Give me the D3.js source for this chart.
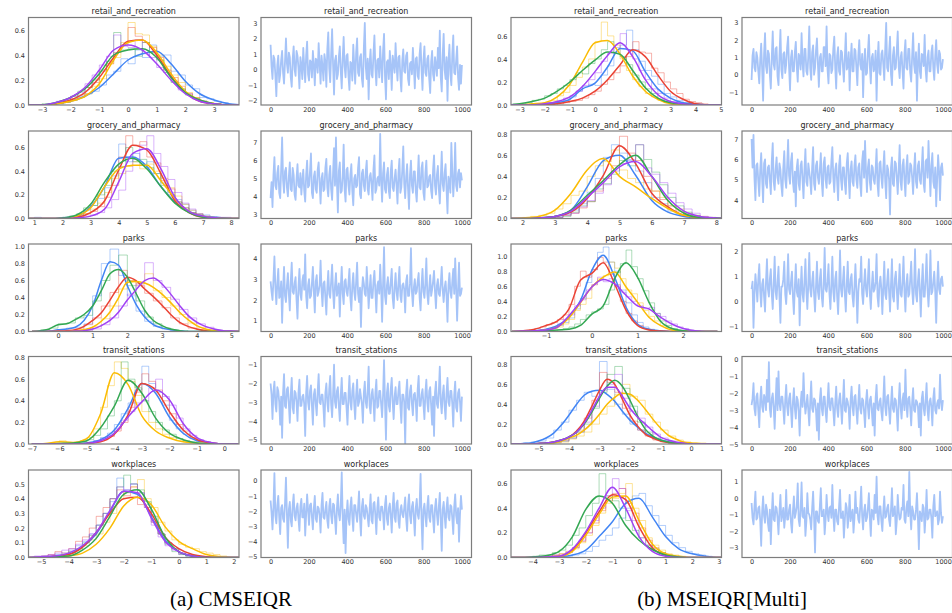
<!DOCTYPE html>
<html><head><meta charset="utf-8">
<script src="https://cdn.jsdelivr.net/npm/d3@7"></script>
<style>body{margin:0;background:#fff}svg{display:block}</style>
</head><body><svg id="c" width="952" height="613"></svg>
<script>
// ---------------- DATA ----------------
const chains = ["blue","red","yellow","green","purple"];
const chainColors = {blue:"#4285f4", red:"#ea4335", yellow:"#fbbc04", green:"#34a853", purple:"#a142f4"};
const rowTitles = ["retail_and_recreation","grocery_and_pharmacy","parks","transit_stations","workplaces"];
const captions = ["(a) CMSEIQR","(b) MSEIQR[Multi]"];
const traceXTicks = [0,200,400,600,800,1000];

const densXDomainA = [[-3.47,3.87],[0.79,8.28],[-0.85,5.22],[-7.12,0.53],[-5.46,2.19]];
const densYDomainA = [[0,0.70],[0,0.74],[0,1.03],[0,0.81],[0,0.595]];
const densXTicksA = [[-3,-2,-1,0,1,2,3],[1,2,3,4,5,6,7,8],[0,1,2,3,4,5],[-7,-6,-5,-4,-3,-2,-1,0],[-5,-4,-3,-2,-1,0,1,2]];
const densYTicksA = [[0,0.2,0.4,0.6],[0,0.2,0.4,0.6],[0,0.2,0.4,0.6,0.8,1.0],[0,0.2,0.4,0.6,0.8],[0,0.1,0.2,0.3,0.4,0.5]];
const densXDomainB = [[-3.34,5.03],[1.64,8.16],[-1.77,2.84],[-5.9,1.0],[-4.81,3.10]];
const densYDomainB = [[0,0.76],[0,0.83],[0,1.16],[0,0.88],[0,0.71]];
const densXTicksB = [[-3,-2,-1,0,1,2,3,4,5],[2,3,4,5,6,7,8],[-1,0,1,2],[-5,-4,-3,-2,-1,0,1],[-4,-3,-2,-1,0,1,2,3]];
const densYTicksB = [[0,0.2,0.4,0.6],[0,0.2,0.4,0.6,0.8],[0,0.2,0.4,0.6,0.8,1.0],[0,0.2,0.4,0.6,0.8],[0,0.2,0.4,0.6]];

const traceYDomainA = [[-2.27,3.35],[2.76,7.66],[0.48,4.70],[-5.23,-0.56],[-5.04,0.70]];
const traceYTicksA = [[-2,-1,0,1,2,3],[3,4,5,6,7],[1,2,3,4],[-5,-4,-3,-2,-1],[-5,-4,-3,-2,-1,0]];
const traceYDomainB = [[-1.75,3.31],[3.10,7.39],[-1.2,2.31],[-5.0,0.18],[-3.61,1.71]];
const traceYTicksB = [[-1,0,1,2,3],[4,5,6,7],[-1,0,1,2],[-5,-4,-3,-2,-1,0],[-3,-2,-1,0,1]];

const retailA_kde = {start:-3.5, step:0.5,
 blue:[0,0,0.01,0.03,0.07,0.14,0.25,0.36,0.41,0.43,0.33,0.19,0.09,0.04,0.01,0],
 red:[0,0,0.01,0.04,0.10,0.22,0.38,0.51,0.52,0.40,0.23,0.10,0.03,0.01,0,0],
 yellow:[0,0,0.01,0.03,0.07,0.17,0.36,0.50,0.52,0.42,0.25,0.11,0.04,0.01,0,0],
 green:[0,0,0.02,0.06,0.13,0.25,0.40,0.44,0.45,0.38,0.22,0.10,0.04,0.01,0,0],
 purple:[0,0,0.02,0.06,0.14,0.28,0.44,0.48,0.44,0.33,0.20,0.09,0.03,0.01,0,0]};
const retailB_kde = {start:-3.5, step:0.5,
 yellow:[0,0,0.01,0.02,0.07,0.18,0.37,0.54,0.56,0.44,0.25,0.12,0.05,0.01,0,0,0,0],
 green:[0,0.01,0.03,0.06,0.12,0.20,0.30,0.39,0.46,0.44,0.30,0.15,0.06,0.02,0.01,0,0,0],
 purple:[0,0,0,0.01,0.03,0.07,0.16,0.29,0.43,0.54,0.42,0.22,0.09,0.03,0.01,0,0,0],
 blue:[0,0,0,0.01,0.02,0.05,0.14,0.19,0.33,0.49,0.47,0.29,0.14,0.06,0.02,0.01,0,0],
 red:[0,0,0,0,0.01,0.03,0.06,0.12,0.22,0.35,0.48,0.42,0.26,0.12,0.05,0.01,0,0]};
const groceryA_kde = {start:0.5, step:0.5,
 blue:[0,0,0,0.005,0.02,0.10,0.27,0.51,0.52,0.44,0.27,0.14,0.06,0.02,0.01,0,0],
 red:[0,0,0,0,0.01,0.05,0.15,0.41,0.62,0.58,0.38,0.15,0.05,0.01,0,0,0],
 purple:[0,0,0,0,0.005,0.02,0.08,0.31,0.55,0.59,0.42,0.18,0.06,0.02,0.005,0,0],
 green:[0,0,0,0.005,0.03,0.12,0.31,0.46,0.51,0.42,0.27,0.13,0.05,0.01,0,0,0],
 yellow:[0,0,0,0,0.02,0.09,0.27,0.42,0.45,0.45,0.32,0.17,0.06,0.02,0.005,0,0]};
const groceryB_kde = {start:1.5, step:0.5,
 yellow:[0,0.005,0.02,0.08,0.24,0.46,0.57,0.40,0.30,0.19,0.095,0.03,0.01,0,0],
 blue:[0,0,0.005,0.02,0.08,0.30,0.55,0.60,0.41,0.17,0.06,0.02,0.005,0,0],
 red:[0,0,0.005,0.02,0.06,0.19,0.41,0.69,0.52,0.24,0.11,0.03,0.01,0,0],
 green:[0,0,0.005,0.02,0.08,0.22,0.36,0.51,0.60,0.40,0.17,0.05,0.01,0.005,0],
 purple:[0,0,0.005,0.02,0.07,0.20,0.34,0.49,0.54,0.40,0.20,0.07,0.02,0.005,0]};
const parksA_kde = {start:-0.75, step:0.25,
 blue:[0,0,0.005,0.02,0.03,0.05,0.13,0.30,0.60,0.82,0.78,0.54,0.32,0.17,0.08,0.04,0.02,0.01,0,0,0,0,0,0,0],
 green:[0,0.01,0.03,0.08,0.09,0.14,0.20,0.30,0.48,0.68,0.73,0.64,0.45,0.25,0.13,0.07,0.03,0.01,0,0,0,0,0,0,0],
 red:[0,0,0,0.005,0.01,0.02,0.06,0.13,0.22,0.37,0.53,0.64,0.60,0.50,0.41,0.31,0.20,0.11,0.06,0.03,0.01,0.005,0,0,0],
 yellow:[0,0,0,0,0,0.01,0.02,0.05,0.12,0.23,0.40,0.58,0.59,0.57,0.52,0.44,0.34,0.23,0.14,0.07,0.03,0.01,0,0,0],
 purple:[0,0,0,0,0,0.005,0.01,0.03,0.07,0.13,0.23,0.37,0.49,0.60,0.63,0.56,0.44,0.31,0.19,0.11,0.06,0.03,0.01,0.005,0]};
const parksB_kde = {start:-1.75, step:0.25,
 blue:[0,0,0.01,0.03,0.08,0.19,0.41,0.81,1.01,0.72,0.32,0.10,0.03,0.01,0,0,0,0,0],
 red:[0,0.01,0.03,0.08,0.14,0.30,0.68,0.77,0.91,0.63,0.28,0.08,0.02,0.005,0,0,0,0,0],
 yellow:[0,0,0.005,0.02,0.06,0.18,0.38,0.59,0.72,0.79,0.59,0.39,0.19,0.08,0.02,0.005,0,0,0],
 green:[0,0,0.005,0.01,0.02,0.03,0.08,0.23,0.34,0.70,0.91,0.72,0.39,0.14,0.04,0.01,0,0,0],
 purple:[0,0.005,0.01,0.02,0.06,0.21,0.39,0.59,0.69,0.63,0.48,0.34,0.30,0.19,0.10,0.04,0.01,0,0]};
const transitA_kde = {start:-7, step:0.5,
 yellow:[0,0.005,0.02,0.015,0.05,0.28,0.66,0.55,0.26,0.12,0.055,0.02,0.01,0,0,0],
 green:[0,0,0.005,0.01,0.03,0.15,0.35,0.59,0.47,0.24,0.10,0.04,0.01,0,0,0],
 blue:[0,0,0,0,0.01,0.04,0.13,0.33,0.56,0.47,0.25,0.10,0.03,0.01,0,0],
 red:[0,0,0,0,0.005,0.02,0.09,0.27,0.56,0.50,0.30,0.13,0.04,0.01,0,0],
 purple:[0,0,0,0,0.005,0.03,0.10,0.25,0.39,0.50,0.41,0.19,0.06,0.015,0,0]};
const transitB_kde = {start:-6, step:0.25,
 blue:[0,0,0.005,0.01,0.03,0.06,0.11,0.19,0.29,0.40,0.49,0.53,0.54,0.50,0.43,0.33,0.24,0.17,0.11,0.07,0.04,0.02,0.01,0.005,0,0,0,0,0],
 red:[0,0,0,0,0.005,0.01,0.02,0.04,0.07,0.13,0.23,0.38,0.54,0.65,0.60,0.45,0.29,0.18,0.10,0.06,0.03,0.015,0.01,0,0,0,0,0,0],
 green:[0,0,0,0,0.005,0.01,0.02,0.04,0.07,0.12,0.20,0.32,0.46,0.58,0.64,0.58,0.44,0.28,0.15,0.08,0.04,0.02,0.01,0,0,0,0,0,0],
 purple:[0,0,0,0,0.005,0.01,0.02,0.04,0.07,0.12,0.21,0.34,0.48,0.57,0.57,0.48,0.36,0.27,0.20,0.13,0.07,0.04,0.02,0.01,0,0,0,0,0],
 yellow:[0,0,0,0,0,0.005,0.01,0.03,0.06,0.09,0.14,0.21,0.30,0.40,0.47,0.51,0.50,0.44,0.35,0.25,0.16,0.09,0.05,0.02,0.01,0.005,0,0,0]};
const workA_kde = {start:-5.5, step:0.5,
 blue:[0,0,0.005,0.02,0.07,0.16,0.31,0.45,0.43,0.28,0.12,0.04,0.01,0,0,0,0],
 purple:[0,0.005,0.01,0.03,0.08,0.17,0.32,0.45,0.44,0.27,0.11,0.04,0.01,0,0,0,0],
 green:[0,0,0.005,0.01,0.05,0.13,0.28,0.43,0.46,0.33,0.14,0.04,0.01,0,0,0,0],
 red:[0,0,0.01,0.02,0.07,0.17,0.30,0.40,0.41,0.30,0.14,0.06,0.02,0.005,0,0,0],
 yellow:[0,0,0,0.01,0.03,0.09,0.20,0.35,0.41,0.36,0.21,0.11,0.06,0.02,0.005,0,0]};
const workB_kde = {start:-5, step:0.5,
 green:[0,0,0.005,0.015,0.05,0.17,0.39,0.50,0.44,0.26,0.14,0.065,0.02,0.005,0,0,0,0],
 purple:[0,0,0,0.005,0.01,0.07,0.21,0.40,0.57,0.40,0.17,0.05,0.01,0,0,0,0,0],
 red:[0,0,0,0.005,0.01,0.06,0.20,0.37,0.51,0.47,0.25,0.08,0.02,0.005,0,0,0,0],
 yellow:[0,0,0,0.005,0.01,0.05,0.18,0.35,0.49,0.50,0.30,0.11,0.03,0.01,0,0,0,0],
 blue:[0,0,0,0,0.005,0.02,0.06,0.17,0.29,0.44,0.48,0.33,0.17,0.07,0.03,0.01,0,0]};

const retailA_hist = {start:-3.5, width:0.25,
 blue:[0,0,0,0,1,2,4,7,9,11,16,24,27,37,33,44,38,48,39,40,27,24,16,13,6,5,3,2,0,0],
 red:[0,0,0,1,2,3,5,8,14,18,27,33,42,48,62,55,50,46,38,28,22,15,9,6,3,1,1,0,0,0],
 yellow:[0,0,0,0,1,2,4,6,9,15,21,33,38,50,66,57,56,47,40,31,24,18,10,6,3,2,1,0,0,0],
 green:[0,0,1,1,2,4,7,11,14,20,28,35,58,44,45,39,50,42,36,26,18,13,8,5,3,1,1,0,0,0],
 purple:[0,0,0,1,3,4,7,10,17,24,32,39,56,47,46,52,41,38,30,26,19,12,9,5,3,1,0,0,0,0]};
const retailB_hist = {start:-3.5, width:0.25,
 yellow:[0,0,0,0,1,1,2,4,8,11,17,24,33,40,55,72,60,52,40,30,22,16,10,7,4,2,1,0,0,0,0,0,0,0],
 green:[0,1,1,2,4,5,8,10,14,17,22,28,27,36,40,48,55,45,42,35,26,20,14,10,5,3,2,1,0,0,0,0,0,0],
 purple:[0,0,0,0,0,1,2,2,4,6,8,12,17,22,28,38,45,50,62,48,40,30,22,14,10,6,3,2,1,0,0,0,0,0],
 blue:[0,0,0,0,0,0,1,2,3,4,7,12,16,18,17,26,34,45,52,65,48,38,30,25,18,10,7,4,2,1,0,0,0,0],
 red:[0,0,0,0,0,0,0,0,1,2,3,4,6,9,12,18,22,28,34,42,55,46,45,32,28,20,14,10,5,3,2,1,0,0]};
const groceryA_hist = {start:0.5, width:0.25,
 red:[0,0,0,0,0,0,0,1,2,4,6,10,18,28,52,70,62,65,52,47,32,25,14,9,5,3,1,1,0,0,0,0],
 purple:[0,0,0,0,0,0,0,0,1,2,3,5,9,16,24,40,50,62,70,55,44,33,22,13,8,4,2,1,1,1,0,0],
 blue:[0,0,1,0,0,0,1,2,3,7,11,17,26,36,63,48,55,46,48,38,30,22,16,12,7,4,3,1,0,0,0,0],
 green:[0,0,0,0,0,0,1,2,4,9,11,20,28,40,44,60,48,50,43,38,28,20,14,9,5,3,1,0,0,0,0,0],
 yellow:[0,0,0,0,0,0,0,1,2,4,8,13,22,34,38,44,48,42,46,40,34,26,19,12,7,4,2,1,0,0,0,0]};
const groceryB_hist = {start:1.5, width:0.25,
 yellow:[0,0,1,2,3,5,9,14,22,26,40,50,54,65,46,38,34,28,26,20,12,9,5,3,2,1,0,0],
 blue:[0,0,0,0,0,1,2,4,8,14,25,38,58,70,62,55,45,34,20,14,7,4,2,1,0,0,0,0],
 red:[0,0,0,0,0,0,1,3,5,10,16,26,38,50,78,62,55,40,26,18,12,7,4,2,1,0,0,0],
 green:[0,0,0,0,0,0,1,2,6,12,16,28,33,42,55,50,70,56,44,32,20,12,6,3,1,1,0,0],
 purple:[0,0,0,0,0,0,1,3,5,11,17,24,32,45,52,56,70,48,42,34,24,15,9,5,2,1,0,0]};
const parksA_hist = {start:-0.75, width:0.25,
 blue:[0,0,1,2,4,5,9,42,80,97,66,42,24,12,6,3,1,0,0,0,0,0,0,0],
 green:[0,2,4,9,10,16,19,36,60,78,90,54,36,17,9,4,2,1,0,0,0,0,0,0],
 red:[0,0,0,1,1,3,8,16,30,46,72,60,54,45,36,28,16,9,4,2,1,0,0,0],
 yellow:[0,0,0,0,0,1,2,6,15,30,50,60,56,68,48,40,30,20,10,5,2,1,0,0],
 purple:[0,0,0,0,0,0,1,3,8,16,30,44,56,81,60,52,38,26,16,9,5,2,1,0]};
const parksB_hist = {start:-1.75, width:0.125,
 blue:[0,0,0,0,1,2,3,5,8,12,18,30,44,65,82,105,112,92,80,55,38,22,12,6,3,1,0,0,0,0,0,0,0,0,0,0],
 red:[0,0,1,2,4,6,9,12,16,22,36,60,80,72,82,98,92,76,62,40,24,14,8,4,2,1,0,0,0,0,0,0,0,0,0,0],
 yellow:[0,0,0,0,1,2,3,4,6,10,16,28,36,44,62,70,74,92,84,70,55,50,38,28,20,14,8,5,2,1,0,0,0,0,0,0],
 green:[0,0,0,0,0,0,1,1,2,4,6,10,16,22,26,30,36,55,78,90,108,86,70,54,38,24,14,8,4,2,1,0,0,0,0,0],
 purple:[0,0,0,0,0,2,3,6,10,16,22,34,42,55,62,72,66,70,60,52,46,40,34,30,32,24,20,14,10,6,4,2,1,0,0,0]};
const transitA_hist = {start:-7, width:0.25,
 yellow:[0,0,0,1,3,1,1,3,6,14,34,54,76,70,58,45,30,20,14,9,6,3,2,1,0,0,0,0,0,0],
 green:[0,0,0,0,0,0,1,2,4,8,14,26,40,76,60,52,40,30,20,13,9,5,3,2,1,0,0,0,0,0],
 blue:[0,0,0,0,0,0,0,1,1,3,6,10,18,28,38,50,72,56,48,36,22,14,9,5,3,1,0,0,0,0],
 red:[0,0,0,0,0,0,0,0,1,2,4,7,12,20,34,48,65,58,50,40,28,18,12,6,3,2,1,0,0,0],
 purple:[0,0,0,0,0,0,0,0,1,3,5,8,14,22,30,38,40,52,60,44,36,24,14,8,4,2,1,0,0,0]};
const transitB_hist = {start:-6, width:0.25,
 blue:[0,0,1,2,3,6,14,22,34,44,52,48,83,55,40,30,20,14,9,5,3,1,1,0,0,0,0,0],
 red:[0,0,0,0,1,1,2,4,8,14,26,44,72,62,52,36,23,14,8,4,2,1,0,0,0,0,0,0],
 green:[0,0,0,0,0,1,2,3,6,12,20,36,52,70,78,56,38,22,12,6,3,1,0,0,0,0,0,0],
 purple:[0,0,0,0,0,1,2,3,6,12,22,38,54,60,70,46,33,26,17,10,6,3,1,0,0,0,0,0],
 yellow:[0,0,0,0,0,0,1,2,5,8,12,20,30,38,50,60,48,44,30,22,14,8,4,2,1,1,0,0]};
const workA_hist = {start:-5.5, width:0.25,
 blue:[0,0,1,1,2,3,5,8,11,16,22,30,38,54,46,50,44,36,24,16,10,6,3,1,1,0,0,0,0,0,0,0],
 purple:[0,1,1,2,3,5,6,9,12,16,22,30,40,48,46,50,44,34,22,14,8,5,2,1,0,0,0,0,0,0,0,0],
 green:[0,0,0,1,1,2,4,6,10,15,22,30,40,48,56,50,46,38,28,16,9,4,2,1,0,0,0,0,0,0,0,0],
 red:[0,0,1,2,4,3,6,11,14,20,28,34,40,46,42,48,36,34,24,16,10,6,3,2,1,0,0,0,0,0,0,0],
 yellow:[0,0,0,0,1,1,3,5,8,12,16,24,30,40,44,48,53,40,34,24,18,12,9,7,6,4,3,2,1,0,0,0]};
const workB_hist = {start:-5, width:0.25,
 green:[0,0,0,0,1,2,2,4,6,10,18,24,34,44,68,50,46,40,30,22,16,10,7,4,2,1,0,0,0,0,0,0,0,0],
 purple:[0,0,0,0,0,0,1,2,2,4,8,14,20,30,40,50,64,56,38,30,16,10,5,2,1,0,0,0,0,0,0,0,0,0],
 red:[0,0,0,0,0,0,1,2,3,5,8,13,20,28,38,46,52,56,44,36,24,14,8,4,2,1,0,0,0,0,0,0,0,0],
 yellow:[0,0,0,0,0,0,1,1,3,4,7,12,18,26,36,44,48,52,60,40,30,16,10,6,3,2,1,0,0,0,0,0,0,0],
 blue:[0,0,0,0,0,0,0,0,0,1,2,3,5,9,14,18,24,32,40,50,52,42,34,26,18,12,8,5,3,2,1,0,0,0]};

// Trace plots: 200 samples each across iterations 0..999
const retailA_trace = [1.6,0.2,-0.6,0.9,0.7,-0.4,-1.7,0.3,0.9,-0.8,-0.3,0.6,1.2,-0.2,-0.9,0.5,2.0,0.4,-0.2,1.1,
0.8,-0.5,-1.1,0.7,1.5,0.0,-0.4,1.2,0.9,0.1,-1.2,0.8,0.3,-0.6,1.4,0.2,-0.8,0.9,1.8,-0.3,
-0.7,0.6,0.5,-0.5,1.2,0.3,-1.0,0.7,0.6,-0.2,1.7,0.4,-0.9,0.9,0.2,-0.7,1.0,0.5,-1.1,1.3,
2.4,0.1,-0.8,1.0,2.6,0.3,-1.6,0.6,0.9,-0.6,-0.3,0.8,1.5,-0.1,-1.2,0.7,2.1,0.2,-0.5,0.9,
1.0,-0.4,-1.3,0.5,0.4,-0.7,1.6,0.3,-0.9,1.1,2.0,-0.2,-0.4,0.8,1.0,-0.6,-1.1,1.4,3.0,0.2,
-0.6,0.7,-1.9,0.4,1.3,-0.3,-0.5,1.0,2.2,0.1,-1.0,0.6,0.7,-0.5,1.5,0.3,-0.8,1.2,2.3,-0.4,
-1.9,0.5,0.6,-0.6,1.2,0.2,-1.3,0.9,0.4,-0.2,1.7,0.3,-0.7,0.8,0.9,-0.5,-1.4,0.6,1.3,-0.1,
-0.2,0.9,1.1,-0.6,-1.0,0.4,0.5,-0.3,1.4,0.2,-1.2,0.7,0.8,-0.4,-0.6,1.0,1.7,0.0,-1.3,0.6,
1.5,-0.2,-0.4,0.7,0.9,-0.6,-1.5,0.5,1.2,-0.3,-0.7,0.8,0.3,-0.4,1.4,0.1,2.5,-0.5,-1.4,0.9,
2.3,0.0,-0.6,0.8,-2.0,0.5,1.6,-0.3,-1.0,1.0,2.2,-0.2,-0.3,0.6,1.5,-0.5,-1.3,0.3,-0.9,0.3];
const retailB_trace = [-0.3,1.1,1.5,0.4,0.2,1.3,1.0,0.2,-0.5,0.9,1.8,0.3,-1.5,1.2,2.4,0.5,0.1,1.4,1.2,0.0,
-0.8,1.0,2.5,0.6,0.3,1.5,1.6,-0.1,-0.6,1.1,2.6,0.3,-0.2,1.2,1.3,0.1,0.6,1.6,2.2,0.4,
-0.9,1.0,1.4,0.2,0.2,1.3,1.9,0.5,-0.4,1.2,1.0,0.3,2.4,0.7,-0.1,1.5,1.5,0.2,0.0,1.1,
2.8,0.4,-0.3,1.3,1.7,0.0,0.4,1.4,2.1,0.6,-0.7,1.0,1.2,0.2,0.2,1.6,1.6,0.5,2.8,0.3,
-0.5,1.2,1.1,0.1,0.3,1.5,2.2,0.4,-0.8,1.1,1.6,0.2,0.0,1.4,1.3,0.5,-0.4,1.0,2.4,0.3,
0.5,1.3,-0.9,0.8,1.8,0.2,0.2,1.5,1.4,0.4,-0.6,1.1,2.0,0.6,0.3,1.2,-1.3,0.7,1.5,0.0,
0.1,1.3,2.3,0.5,-0.5,1.0,1.2,0.2,0.4,1.4,-1.5,0.8,1.9,0.1,0.0,1.2,1.4,0.6,-0.3,1.5,
3.0,0.4,0.2,1.3,2.2,0.0,-0.6,1.1,1.6,0.3,0.4,1.4,2.5,0.5,-0.2,1.0,1.3,0.2,-0.8,1.2,
2.0,0.4,0.3,1.5,1.5,0.1,-0.4,1.1,2.4,0.6,0.1,1.3,-1.5,0.7,1.8,0.2,-0.2,1.2,1.1,0.5,
2.3,0.3,-0.4,1.0,1.4,0.2,0.2,1.3,1.7,0.4,-0.3,1.1,2.0,0.6,0.1,1.4,1.2,0.3,0.4,0.9];
const groceryA_trace = [3.9,4.8,3.4,5.2,6.2,4.6,4.4,5.3,5.7,4.2,3.9,5.5,7.3,4.9,4.2,5.4,5.6,4.5,4.0,5.1,
5.9,4.4,4.3,5.6,5.2,4.1,3.8,5.0,5.8,4.6,4.5,5.3,4.1,4.9,5.5,4.3,3.7,5.2,6.0,4.5,
4.6,5.4,6.4,4.2,3.9,5.1,5.4,4.4,4.2,5.5,5.9,4.7,3.6,5.0,5.3,4.3,4.4,5.6,6.1,4.5,
4.0,5.2,5.7,4.4,3.8,5.3,6.7,4.6,7.3,4.8,3.1,5.4,5.9,4.2,4.3,5.1,6.9,4.4,3.7,5.5,
5.6,4.6,4.1,5.2,5.8,4.3,3.5,5.0,5.2,4.5,4.6,5.6,6.2,4.1,3.9,5.3,5.5,4.6,4.3,5.4,
6.0,4.4,4.1,5.1,5.3,4.7,3.8,5.5,6.3,4.2,4.4,5.0,5.1,4.6,7.5,4.9,3.7,5.3,5.9,4.4,
4.2,5.2,5.6,4.3,3.9,5.4,6.0,4.5,4.3,5.0,5.5,4.6,3.6,5.3,6.1,4.2,4.5,5.5,6.8,4.7,
3.9,5.1,5.8,4.4,3.3,5.2,6.0,4.6,4.2,5.4,5.4,4.3,3.7,5.0,6.3,4.5,4.4,5.6,5.9,4.2,
3.8,5.3,6.0,4.5,4.6,5.1,5.2,4.3,3.9,5.5,6.3,4.6,4.1,5.2,5.7,4.4,3.6,5.0,6.5,4.7,
4.3,5.3,5.8,4.4,3.05,5.1,4.8,4.2,7.0,5.4,4.0,5.0,7.0,4.6,4.3,5.3,5.5,4.5,5.3,4.9];
const groceryB_trace = [7.0,5.6,7.2,5.1,4.0,5.7,5.8,4.9,4.2,5.5,6.3,5.0,3.9,5.8,6.0,4.8,4.6,5.6,5.7,5.0,
4.3,5.9,6.8,4.9,4.5,5.5,6.1,5.1,4.8,5.8,5.5,4.7,4.2,5.6,6.4,5.0,4.6,5.7,6.95,5.2,
4.8,5.9,6.3,4.9,4.4,5.4,3.7,5.6,6.0,4.8,4.5,5.7,5.9,5.0,4.1,5.5,6.5,4.9,4.7,5.8,
5.4,5.0,4.3,5.6,6.6,4.8,4.5,5.7,5.9,5.1,4.8,5.5,6.3,4.9,4.2,5.8,6.1,5.0,4.6,5.6,
5.7,4.8,4.9,5.9,6.6,5.1,4.4,5.5,5.8,4.9,4.0,5.7,6.2,5.0,4.5,5.6,5.6,4.8,4.3,5.8,
6.3,5.1,4.1,5.5,5.9,4.9,4.7,5.7,6.2,5.0,4.6,5.6,5.8,4.8,4.2,5.9,6.4,5.1,6.9,5.4,
4.4,5.6,6.0,4.9,4.5,5.7,5.6,5.0,4.8,5.5,6.5,4.8,4.2,5.8,5.9,5.1,4.6,5.6,6.4,4.9,
4.1,5.7,5.5,5.0,3.3,5.6,6.1,4.8,4.7,5.9,5.8,5.1,4.3,5.5,6.7,4.9,4.5,5.7,6.0,5.0,
4.2,5.6,6.2,4.8,4.9,5.8,5.7,5.1,4.3,5.5,6.3,4.9,4.6,5.7,5.9,5.0,4.8,5.6,6.6,4.8,
4.4,5.9,6.0,5.1,6.9,5.5,4.2,5.7,6.3,4.9,4.6,5.6,3.7,5.0,6.2,5.4,4.0,5.6,5.8,5.2];
const parksA_trace = [2.9,2.4,2.0,3.0,4.1,2.6,1.8,2.8,3.5,2.1,2.2,2.9,0.9,2.5,3.6,2.2,1.9,2.7,3.3,2.3,
1.5,2.9,3.8,2.4,2.3,2.8,3.1,2.0,1.1,2.6,3.5,2.3,2.0,2.9,3.2,2.5,4.2,2.2,1.6,2.7,
3.0,2.1,2.2,2.8,3.6,2.4,1.4,2.9,3.2,2.2,2.4,2.7,3.9,2.5,1.7,2.8,2.9,2.1,1.3,2.6,
3.4,2.3,2.1,2.9,3.7,2.4,1.6,2.7,3.3,2.2,2.5,2.8,1.2,2.6,3.6,2.3,1.8,2.9,3.0,2.4,
2.2,2.8,3.5,2.1,1.5,2.7,3.3,2.4,2.0,2.9,3.8,2.3,1.9,2.6,0.7,2.4,3.1,2.8,2.3,2.2,
3.6,2.7,1.6,2.5,3.2,2.1,2.1,2.9,3.4,2.4,1.4,2.7,2.9,2.3,3.7,2.6,0.95,2.8,4.55,2.2,
1.8,2.7,3.1,2.3,2.3,2.9,3.5,2.1,1.6,2.6,3.3,2.4,2.0,2.8,3.6,2.2,1.9,2.7,2.8,2.5,
1.4,2.9,3.2,2.2,2.2,2.8,4.5,2.4,1.7,2.6,3.0,2.3,2.4,2.9,3.3,2.1,1.5,2.7,3.5,2.4,
2.1,2.8,4.0,2.3,1.8,2.6,3.2,2.2,2.5,2.9,3.4,2.4,1.6,2.7,3.0,2.3,2.2,2.8,3.6,2.5,
1.9,2.6,2.9,2.2,0.95,2.7,3.3,2.4,2.1,2.9,3.5,2.3,4.0,2.6,1.0,2.5,3.8,2.2,2.3,2.6];
const parksB_trace = [0.5,0.8,-1.05,0.3,1.1,0.6,0.0,0.9,1.5,0.4,-0.2,0.7,0.9,0.2,-0.4,0.8,1.7,0.5,0.2,0.9,
1.3,0.3,-0.3,0.7,1.8,0.4,0.1,0.8,1.4,0.2,-0.85,0.6,0.6,0.9,1.6,0.3,-0.1,0.7,1.9,0.5,
0.3,0.8,1.2,0.2,-0.5,0.6,1.5,0.4,0.2,0.9,-0.95,0.5,1.4,0.3,0.0,0.8,1.7,0.4,-0.3,0.7,
1.95,0.5,0.2,0.8,1.2,0.3,-0.4,0.6,1.6,0.4,0.1,0.9,1.3,0.2,-0.2,0.7,2.15,0.5,0.4,0.8,
1.5,0.3,-0.3,0.7,1.8,0.4,0.0,0.9,1.2,0.2,-0.5,0.6,2.05,0.5,0.2,0.8,1.4,0.3,-0.4,0.7,
1.6,0.4,0.3,0.9,1.1,0.2,-0.2,0.6,1.5,0.5,-0.85,0.4,0.9,0.8,1.8,0.3,-0.1,0.7,1.3,0.5,
0.2,0.9,1.7,0.3,-0.3,0.6,1.2,0.4,0.5,0.8,1.9,0.2,-0.2,0.7,1.0,0.5,-0.5,0.6,1.6,0.3,
0.1,0.8,1.3,0.4,-0.4,0.7,1.7,0.2,0.0,0.9,1.2,0.5,-0.3,0.6,1.5,0.3,0.2,0.8,1.8,0.4,
-0.4,0.7,1.1,0.2,0.3,0.9,1.6,0.5,-0.1,0.6,2.1,0.3,0.0,0.8,1.3,0.4,-0.6,0.7,1.5,0.2,
0.2,0.9,1.9,0.5,-0.2,0.6,2.05,0.3,0.4,0.8,1.2,0.4,-0.85,0.7,1.6,0.5,0.3,0.9,1.0,0.6];
const transitA_trace = [-2.0,-2.6,-3.9,-2.4,-1.9,-3.1,-3.5,-2.2,-2.4,-3.0,-4.2,-2.7,-4.9,-2.5,-1.5,-3.2,-3.3,-2.3,-2.2,-3.1,
-4.1,-2.6,-1.7,-3.3,-3.6,-2.4,-2.5,-3.0,-4.0,-2.5,-1.8,-3.2,-3.2,-2.7,-2.6,-3.1,-4.8,-2.5,-1.6,-3.0,
-3.4,-2.4,-2.1,-3.2,-4.2,-2.6,-2.3,-3.1,-3.7,-2.4,-1.5,-3.0,-3.1,-2.6,-2.6,-3.3,-4.3,-2.5,-2.0,-3.0,
-3.5,-2.3,-1.6,-3.1,-3.8,-2.6,-1.0,-3.0,-3.3,-2.4,-2.2,-3.2,-4.0,-2.6,-1.7,-3.1,-3.1,-2.5,-2.5,-3.3,
-4.2,-2.7,-1.6,-3.0,-3.4,-2.4,-2.0,-3.1,-3.9,-2.6,-1.8,-3.2,-3.0,-2.3,-2.7,-3.1,-4.1,-2.5,-1.9,-3.0,
-3.3,-2.4,-1.1,-3.2,-3.6,-2.6,-2.3,-3.0,-4.0,-2.5,-1.8,-3.3,-3.2,-2.4,-2.4,-3.1,-3.8,-2.6,-0.75,-3.0,
-5.0,-2.5,-2.0,-3.2,-3.5,-2.3,-1.7,-3.0,-3.9,-2.7,-2.2,-3.1,-3.1,-2.4,-1.9,-3.2,-4.1,-2.6,-2.6,-3.0,
-5.3,-2.5,-1.8,-3.3,-3.4,-2.4,-2.1,-3.1,-3.7,-2.6,-2.5,-3.0,-4.0,-2.3,-1.6,-3.2,-3.2,-2.6,-2.3,-3.1,
-3.9,-2.5,-1.8,-3.0,-3.5,-2.4,-2.2,-3.2,-4.2,-2.7,-4.8,-2.5,-1.9,-3.1,-3.3,-2.4,-1.1,-3.0,-3.6,-2.6,
-2.1,-3.2,-3.9,-2.5,-1.7,-3.0,-3.2,-2.4,-2.4,-3.1,-4.3,-2.6,-1.9,-3.3,-3.5,-2.5,-2.3,-3.0,-4.0,-2.7];
const transitB_trace = [-2.7,-2.3,-1.4,-2.9,-3.3,-2.2,-2.0,-3.0,-4.0,-2.4,-1.6,-2.8,-3.1,-2.1,-2.3,-3.0,-1.2,-2.5,-0.15,-2.9,
-3.4,-2.3,-2.0,-2.8,-4.1,-2.5,-1.1,-3.0,-0.7,-2.6,-3.0,-2.2,-2.2,-2.9,-3.8,-2.4,-1.5,-2.8,-3.3,-2.3,
-2.0,-3.0,-4.0,-2.5,-1.7,-2.9,-3.5,-2.2,-2.4,-3.1,-4.5,-2.6,-1.9,-2.8,-0.8,-2.4,-3.2,-2.7,-2.1,-3.0,
-3.9,-2.5,-1.3,-2.9,-3.1,-2.3,-2.4,-3.0,-4.2,-2.6,-4.75,-2.4,-1.7,-2.9,-3.3,-2.2,-2.2,-3.1,-3.7,-2.5,
-1.4,-2.8,-3.0,-2.3,-2.3,-3.0,-3.9,-2.6,-1.6,-2.9,-3.4,-2.4,-2.0,-2.8,-3.8,-2.5,-1.2,-3.0,-3.1,-2.3,
-2.5,-2.9,-4.1,-2.4,-1.6,-2.8,-3.3,-2.2,-2.1,-3.0,-3.8,-2.6,-1.5,-2.9,-3.2,-2.3,-2.4,-3.1,-4.0,-2.5,
-1.8,-2.8,-3.5,-2.4,-2.2,-3.0,-3.9,-2.6,-4.5,-2.3,-1.5,-2.9,-3.0,-2.5,-2.3,-3.1,-3.6,-2.4,-1.0,-2.8,
-3.3,-2.2,-2.1,-3.0,-3.8,-2.6,-1.6,-2.9,-3.1,-2.3,-2.4,-3.1,-4.2,-2.5,-1.4,-2.8,-3.5,-2.4,-2.0,-3.0,
-0.6,-2.6,-3.4,-2.3,-2.2,-2.9,-3.9,-2.5,-1.7,-3.0,-3.1,-2.4,-2.5,-2.8,-4.0,-2.6,-4.5,-2.3,-1.9,-2.9,
-3.3,-2.4,-1.4,-3.0,-3.6,-2.5,-2.3,-2.8,-3.9,-2.3,-1.7,-3.0,-3.2,-2.6,-2.4,-2.9,-0.9,-2.5,-3.0,-2.4];
const workA_trace = [-1.3,-2.1,-3.2,-1.7,0.5,-2.3,-2.8,-1.6,-1.0,-2.4,-3.5,-1.8,-1.6,-2.5,-2.7,-1.5,0.2,-2.2,-4.4,-1.9,
-1.4,-2.6,-3.0,-1.6,-0.9,-2.3,-2.6,-1.8,-1.5,-2.5,-3.3,-1.7,-1.2,-2.4,-2.4,-1.5,-3.6,-2.2,-0.9,-1.9,
-2.9,-1.6,-1.5,-2.4,-3.2,-1.8,-1.0,-2.5,-2.7,-1.7,-1.8,-2.3,-3.4,-1.6,-0.8,-2.4,-2.5,-1.9,-1.4,-2.6,
-3.1,-1.7,-1.2,-2.3,-2.8,-1.5,-1.6,-2.5,-3.5,-1.8,-0.9,-2.2,-2.6,-1.6,0.55,-2.4,-4.1,-1.9,-4.75,-2.3,
-1.3,-2.5,-2.9,-1.7,-1.1,-2.4,-3.3,-1.6,-1.6,-2.2,-2.7,-1.8,-0.7,-2.5,-3.6,-1.7,-1.2,-2.3,-2.5,-1.6,
-1.8,-2.4,-3.0,-1.9,-0.9,-2.6,-2.8,-1.5,-1.4,-2.3,-3.5,-1.8,-1.1,-2.4,-2.6,-1.7,-1.7,-2.2,-3.2,-1.6,
-1.0,-2.5,-2.9,-1.8,-1.5,-2.3,-3.4,-1.7,-0.8,-2.4,-2.7,-1.5,-1.3,-2.6,-3.1,-1.9,-1.6,-2.2,-2.4,-1.8,
-1.1,-2.5,-3.3,-1.6,-0.9,-2.3,-2.8,-1.7,-1.4,-2.4,-3.6,-1.8,-1.2,-2.2,-2.5,-1.6,0.45,-2.5,-4.5,-1.9,
-1.5,-2.3,-3.0,-1.7,-1.0,-2.4,-2.7,-1.6,-1.6,-2.5,-3.4,-1.8,-1.2,-2.2,-2.9,-1.7,-0.8,-2.6,-4.6,-1.9,
-1.4,-2.3,-3.1,-1.8,-1.1,-2.4,-2.6,-1.6,-1.7,-2.5,-3.5,-1.7,-0.9,-2.3,-2.8,-1.8,-4.0,-2.2,-1.0,-1.9];
const workB_trace = [-0.3,-1.2,-1.6,-0.5,0.4,-1.3,-1.2,-0.6,-0.5,-1.4,-2.9,-0.8,0.1,-1.1,-1.5,-0.4,-0.7,-1.5,-2.0,-0.7,
-2.8,-1.0,0.3,-1.3,-1.4,-0.5,-0.6,-1.2,-2.2,-0.8,0.2,-1.4,-1.0,-0.6,-1.8,-1.1,0.5,-1.3,-1.3,-0.7,
-0.4,-1.5,-2.1,-0.8,0.1,-1.2,-0.9,-0.5,0.9,-1.3,-1.7,-0.7,0.95,-1.1,-1.2,-0.6,-2.3,-1.4,0.3,-0.9,
-1.0,-1.3,-1.9,-0.6,0.4,-1.2,-3.3,-0.8,-0.8,-1.4,-1.5,-0.5,0.6,-1.1,-1.1,-0.7,-2.2,-1.3,0.2,-0.9,
-1.4,-0.6,-0.5,-1.2,0.8,-1.0,-2.0,-0.7,-0.7,-1.4,-1.6,-0.5,0.5,-1.2,-1.2,-0.8,-2.4,-1.3,-0.3,-0.6,
-1.8,-1.1,0.2,-1.4,-1.0,-0.7,-2.1,-1.2,0.4,-0.9,-0.6,-1.3,-1.5,-0.5,0.7,-1.1,-1.9,-0.8,-0.4,-1.4,
-1.2,-0.6,0.3,-1.2,-2.3,-0.7,-0.8,-1.3,0.2,-0.9,1.3,-1.1,-1.6,-0.5,-0.5,-1.4,-2.0,-0.8,0.1,-1.2,
-1.1,-0.6,-0.4,-1.3,-1.7,-0.7,0.6,-1.1,-0.9,-0.5,-2.2,-1.4,0.2,-0.8,-1.3,-1.2,-0.6,-0.7,0.8,-1.3,
-1.5,-0.6,-0.2,-1.1,1.6,-0.9,-1.9,-0.5,-0.8,-1.3,-1.3,-0.7,0.3,-1.2,-3.1,-0.8,-1.0,-1.4,-0.4,-0.6,
-2.1,-1.1,0.5,-1.3,-1.2,-0.7,-0.7,-1.2,-2.4,-0.5,0.2,-1.1,-1.0,-0.8,-1.6,-1.3,0.4,-0.9,-1.5,-1.1];

const kdesA = [retailA_kde, groceryA_kde, parksA_kde, transitA_kde, workA_kde];
const kdesB = [retailB_kde, groceryB_kde, parksB_kde, transitB_kde, workB_kde];
const histsA = [retailA_hist, groceryA_hist, parksA_hist, transitA_hist, workA_hist];
const histsB = [retailB_hist, groceryB_hist, parksB_hist, transitB_hist, workB_hist];
const tracesA = [retailA_trace, groceryA_trace, parksA_trace, transitA_trace, workA_trace];
const tracesB = [retailB_trace, groceryB_trace, parksB_trace, transitB_trace, workB_trace];

// ---------------- LAYOUT ----------------
const colLeft = [28.5, 261, 511, 742];
const panelW = 210.5;
const rowTop = [17.5, 131, 244, 356.5, 470];
const panelH = 87.5;
const svg = d3.select("#c");
svg.append("rect").attr("width",952).attr("height",613).attr("fill","#fff");
const FONT = "DejaVu Sans, sans-serif";
const minus = v => (v < 0 ? "\u2212" + Math.abs(v) : String(v));
let clipId = 0;

function frame(g, title, x, y, xTicks, yTicks, yFmt) {
  g.append("g").attr("transform", `translate(0,${panelH})`)
    .call(d3.axisBottom(x).tickValues(xTicks).tickSize(0).tickPadding(2).tickFormat(minus))
    .call(a => a.select(".domain").remove())
    .selectAll("text").attr("font-size", 6.5).attr("font-family", FONT).attr("fill", "#333");
  g.append("g")
    .call(d3.axisLeft(y).tickValues(yTicks).tickSize(0).tickPadding(3.5).tickFormat(yFmt))
    .call(a => a.select(".domain").remove())
    .selectAll("text").attr("font-size", 6.5).attr("font-family", FONT).attr("fill", "#333");
  g.append("rect").attr("width", panelW).attr("height", panelH)
    .attr("fill", "none").attr("stroke", "#7d7d7d").attr("stroke-width", 1.2);
  g.append("text").attr("x", panelW / 2).attr("y", -3.5).attr("text-anchor", "middle")
    .attr("font-size", 8).attr("font-family", FONT).attr("fill", "#262626").text(title);
}

function makeClip(g) {
  const id = "clip" + (clipId++);
  g.append("clipPath").attr("id", id).append("rect").attr("width", panelW).attr("height", panelH);
  return g.append("g").attr("clip-path", `url(#${id})`);
}

function densityPanel(col, row, kde, hist, xDom, yDom, xTicks, yTicks) {
  const g = svg.append("g").attr("transform", `translate(${colLeft[col]},${rowTop[row]})`);
  const x = d3.scaleLinear().domain(xDom).range([0, panelW]);
  const y = d3.scaleLinear().domain(yDom).range([panelH, 0]);
  const body = makeClip(g);
  const line = d3.line().x(d => x(d[0])).y(d => y(d[1]));
  chains.forEach(c => {
    const v = hist[c];
    let i0 = v.findIndex(d => d > 0), i1 = v.length - 1;
    while (i1 > 0 && v[i1] === 0) i1--;
    const pts = [[hist.start + i0 * hist.width, 0]];
    for (let i = i0; i <= i1; i++) {
      const e0 = hist.start + i * hist.width, e1 = e0 + hist.width;
      pts.push([e0, v[i] / 100], [e1, v[i] / 100]);
    }
    pts.push([hist.start + (i1 + 1) * hist.width, 0]);
    body.append("path").attr("d", line(pts)).attr("fill", "none")
      .attr("stroke", chainColors[c]).attr("stroke-opacity", 0.4).attr("stroke-width", 1);
  });
  const kdeLine = d3.line().x(d => x(d[0])).y(d => y(d[1])).curve(d3.curveMonotoneX);
  chains.forEach(c => {
    const pts = kde[c].map((v, i) => [kde.start + i * kde.step, v]);
    body.append("path").attr("d", kdeLine(pts)).attr("fill", "none")
      .attr("stroke", chainColors[c]).attr("stroke-width", 1.5);
  });
  frame(g, rowTitles[row], x, y, xTicks, yTicks, d3.format(".1f"));
}

function tracePanel(col, row, vals, yDom, yTicks) {
  const g = svg.append("g").attr("transform", `translate(${colLeft[col]},${rowTop[row]})`);
  const x = d3.scaleLinear().domain([-50, 1049]).range([0, panelW]);
  const y = d3.scaleLinear().domain(yDom).range([panelH, 0]);
  const body = makeClip(g);
  const n = vals.length;
  const line = d3.line().x((d, i) => x(i * 999 / (n - 1))).y(d => y(d));
  body.append("path").attr("d", line(vals)).attr("fill", "none")
    .attr("stroke", "#a6c4f8").attr("stroke-width", 1.8).attr("stroke-linejoin", "round");
  frame(g, rowTitles[row], x, y, traceXTicks, yTicks, minus);
}

for (let r = 0; r < 5; r++) {
  densityPanel(0, r, kdesA[r], histsA[r], densXDomainA[r], densYDomainA[r], densXTicksA[r], densYTicksA[r]);
  tracePanel(1, r, tracesA[r], traceYDomainA[r], traceYTicksA[r]);
  densityPanel(2, r, kdesB[r], histsB[r], densXDomainB[r], densYDomainB[r], densXTicksB[r], densYTicksB[r]);
  tracePanel(3, r, tracesB[r], traceYDomainB[r], traceYTicksB[r]);
}

svg.append("text").attr("x", 231).attr("y", 606).attr("text-anchor", "middle")
  .attr("font-family", "Liberation Serif, Times New Roman, serif").attr("font-size", 21).attr("fill", "#000").text(captions[0]);
svg.append("text").attr("x", 722).attr("y", 606).attr("text-anchor", "middle")
  .attr("font-family", "Liberation Serif, Times New Roman, serif").attr("font-size", 21).attr("fill", "#000").text(captions[1]);
</script>
</body></html>
